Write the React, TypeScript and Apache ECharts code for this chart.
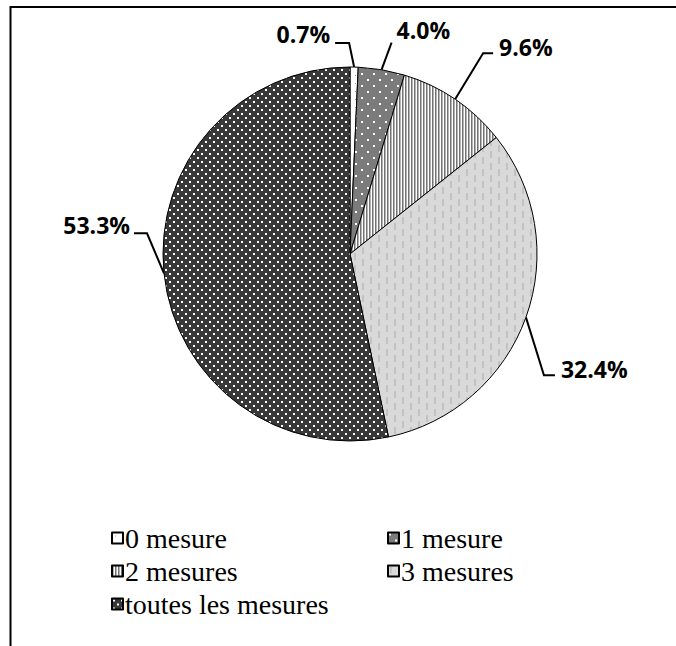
import React, { useEffect, useRef } from "react";
import * as echarts from "echarts";

// Share of respondents by number of measures taken (%)
const categories = ["0 mesure", "1 mesure", "2 mesures", "3 mesures", "toutes les mesures"];
const shares = [0.7, 4.0, 9.6, 32.4, 53.3];

// Legend is split in two columns
const legendLeftColumn = ["0 mesure", "2 mesures", "toutes les mesures"];
const legendRightColumn = ["1 mesure", "3 mesures"];

// Leader-line geometry for each slice label, relative to the point where
// the line leaves the slice edge: elbow, end of the horizontal run, text anchor.
const LEADERS = [
  { elbow: [-5, -24], end: [-19, -24], text: [-5, -9], align: "right" },
  { elbow: [10, -27], end: [10, -27], text: [5, -13], align: "left" },
  { elbow: [28, -46], end: [38, -46], text: [6, -6], align: "left" },
  { elbow: [18, 58], end: [29, 58], text: [6, -6], align: "left" },
  { elbow: [-17, -40], end: [-30, -40], text: [-4, -8], align: "right" },
];

type Draw = (ctx: CanvasRenderingContext2D) => void;

function tile(w: number, h: number, bg: string, draw: Draw) {
  const c = document.createElement("canvas");
  c.width = w;
  c.height = h;
  const ctx = c.getContext("2d") as CanvasRenderingContext2D;
  ctx.fillStyle = bg;
  ctx.fillRect(0, 0, w, h);
  draw(ctx);
  return { image: c, repeat: "repeat", imageWidth: w, imageHeight: h };
}

function buildFills() {
  const none = tile(8, 8, "#ffffff", (ctx) => {
    ctx.fillStyle = "#9a9a9a";
    ctx.fillRect(3, 3, 1, 1);
  });
  const one = tile(12, 12, "#7b7b7b", (ctx) => {
    ctx.fillStyle = "#ffffff";
    ctx.fillRect(1, 1, 2, 2);
    ctx.fillRect(7, 7, 2, 2);
  });
  const two = tile(3, 1, "#ffffff", (ctx) => {
    ctx.fillStyle = "#737373";
    ctx.fillRect(0, 0, 1, 1);
    ctx.fillStyle = "#b4b4b4";
    ctx.fillRect(1, 0, 1, 1);
  });
  const three = tile(16, 12, "#d9d9d9", (ctx) => {
    ctx.fillStyle = "#c2c2c2";
    ctx.fillRect(2, 1, 2, 7);
    ctx.fillRect(10, 7, 2, 7);
    ctx.fillRect(10, -5, 2, 7);
  });
  const all = tile(8, 8, "#383838", (ctx) => {
    ctx.fillStyle = "#ffffff";
    ctx.fillRect(1, 1, 2, 2);
    ctx.fillRect(5, 5, 2, 2);
  });
  return [none, one, two, three, all];
}

function buildOption() {
  const fills = buildFills();
  const legendText = {
    fontFamily: "Liberation Serif",
    fontSize: 28,
    lineHeight: 28,
    color: "#000",
    padding: [0, 0, 0, -3],
  };
  const legendBase = {
    orient: "vertical",
    top: 524,
    padding: 0,
    icon: "rect",
    itemWidth: 11,
    itemHeight: 11,
    itemGap: 5,
    selectedMode: false,
    textStyle: legendText,
  };
  return {
    animation: false,
    backgroundColor: "#ffffff",
    graphic: [
      {
        type: "rect",
        silent: true,
        shape: { x: 10.5, y: 7, width: 900, height: 900 },
        style: { fill: "none", stroke: "#000", lineWidth: 2 },
      },
    ],
    legend: [
      { ...legendBase, data: legendLeftColumn, left: 111 },
      { ...legendBase, data: legendRightColumn, left: 387 },
    ],
    series: [
      {
        type: "pie",
        center: [350, 254],
        radius: 187,
        startAngle: 90,
        clockwise: true,
        avoidLabelOverlap: false,
        itemStyle: { borderColor: "#000", borderWidth: 1 },
        emphasis: { disabled: true },
        label: {
          show: true,
          position: "outside",
          formatter: (p: any) => `${Number(p.value).toFixed(1)}%`,
          fontFamily: "Open Sans",
          fontWeight: "bold",
          fontSize: 23,
          color: "#000",
        },
        labelLine: {
          show: true,
          length: 20,
          length2: 10,
          lineStyle: { color: "#000", width: 2 },
        },
        labelLayout: (p: any) => {
          const L = LEADERS[p.dataIndex];
          const pts = p.labelLinePoints;
          if (!L || !pts) return {};
          const sx = pts[0][0];
          const sy = pts[0][1];
          const elbow = [sx + L.elbow[0], sy + L.elbow[1]];
          const end = [sx + L.end[0], sy + L.end[1]];
          return {
            x: end[0] + L.text[0],
            y: end[1] + L.text[1],
            align: L.align,
            verticalAlign: "middle",
            labelLinePoints: [[sx, sy], elbow, end],
          };
        },
        data: categories.map((name, i) => ({
          name,
          value: shares[i],
          itemStyle: { color: fills[i] },
        })),
      },
    ],
  };
}

export default function App() {
  const ref = useRef<HTMLDivElement>(null);
  useEffect(() => {
    if (!ref.current) return;
    const chart = echarts.init(ref.current, null, { renderer: "svg" });
    chart.setOption(buildOption() as any);
    return () => chart.dispose();
  }, []);
  return (
    <div
      ref={ref}
      style={{ position: "fixed", left: 0, top: 0, width: 676, height: 646, background: "#fff" }}
    />
  );
}
